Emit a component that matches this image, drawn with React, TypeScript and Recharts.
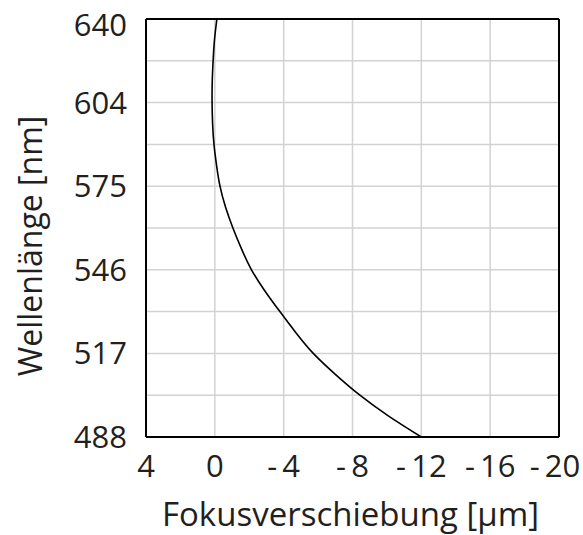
import { CartesianGrid, Line, LineChart, XAxis, YAxis } from "recharts";

// position along the wavelength axis: 0 = 488 nm (bottom), 10 = 640 nm (top)
const positions = [0, 0.5, 1, 1.5, 2, 2.5, 3, 3.5, 4, 4.5, 5, 5.5, 6, 6.5, 7, 7.5, 8, 8.5, 9, 9.5, 10];
// focus shift in µm
const shifts = [
  -12.0, -10.1, -8.43, -7.0, -5.72, -4.7, -3.78, -2.9, -2.13, -1.55, -1.05,
  -0.62, -0.3, -0.1, 0.05, 0.13, 0.16, 0.15, 0.1, 0.02, -0.12,
];

const gridPositions = [0, 1, 2, 3, 4, 5, 6, 7, 8, 9, 10];
const wavelengthLabels = ["488", "517", "546", "575", "604", "640"];
const shiftTicks = [4, 0, -4, -8, -12, -16, -20];

const data = positions.map((pos, i) => ({ pos, shift: shifts[i] }));

const FONT = "'Open Sans', 'Noto Sans', sans-serif";
const TEXT = "#231f20";
const frame = { stroke: "#000", strokeWidth: 2 };

const fmtShift = (v: number) => (v < 0 ? `-\u2009${Math.abs(v)}` : String(v));

const ShiftTick = (props: any) => {
  const { x, y, payload } = props;
  const last = payload.value === -20;
  return (
    <text
      x={last ? x - 4 : x}
      y={y}
      dy="0.71em"
      textAnchor="middle"
      fontSize={31}
      fontFamily={FONT}
      fill={TEXT}
    >
      {fmtShift(payload.value)}
    </text>
  );
};

const WaveTick = (props: any) => {
  const { x, y, payload } = props;
  const v = payload.value;
  if (v % 2 !== 0) return null;
  // the top label sits a little below its tick, as in the source figure
  const shift = v === 10 ? 6 : 0;
  return (
    <text
      x={x}
      y={y + shift}
      dy="0.355em"
      textAnchor="end"
      fontSize={31}
      fontFamily={FONT}
      fill={TEXT}
    >
      {wavelengthLabels[v / 2]}
    </text>
  );
};

const XTitle = (props: any) => {
  const { viewBox } = props;
  return (
    <text
      x={viewBox.x + viewBox.width / 2 - 2}
      y={viewBox.y + viewBox.height - 9}
      textAnchor="middle"
      fontSize={33}
      fontFamily={FONT}
      fill={TEXT}
    >
      Fokusverschiebung [µm]
    </text>
  );
};

const YTitle = (props: any) => {
  const { viewBox } = props;
  const cx = viewBox.x + 42;
  const cy = viewBox.y + viewBox.height / 2 + 18;
  return (
    <text
      x={cx}
      y={cy}
      transform={`rotate(-90 ${cx} ${cy})`}
      textAnchor="middle"
      fontSize={32}
      fontFamily={FONT}
      fill={TEXT}
    >
      Wellenlänge [nm]
    </text>
  );
};

export default function App() {
  return (
    <div style={{ position: "absolute", left: 0, top: 0 }}>
      <LineChart
        width={583}
        height={535}
        layout="vertical"
        data={data}
        margin={{ top: 19, right: 24, bottom: 0, left: 0 }}
      >
        <CartesianGrid xAxisId="bottom" yAxisId="left" stroke="#d2d2d2" strokeWidth={1.5} />
        {/* labelled axes */}
        <XAxis
          xAxisId="bottom"
          type="number"
          dataKey="shift"
          domain={[-20, 4]}
          reversed
          ticks={shiftTicks}
          interval={0}
          height={98}
          axisLine={frame}
          tickLine={false}
          tickSize={0}
          tickMargin={18}
          tick={<ShiftTick />}
          label={<XTitle />}
        />
        <YAxis
          yAxisId="left"
          type="number"
          dataKey="pos"
          domain={[0, 10]}
          reversed
          ticks={gridPositions}
          interval={0}
          width={146}
          axisLine={frame}
          tickLine={false}
          tickSize={0}
          tickMargin={19}
          tick={<WaveTick />}
          label={<YTitle />}
        />
        {/* inward tick marks on all four sides of the frame */}
        <XAxis
          xAxisId="bottomTicks"
          type="number"
          domain={[-20, 4]}
          reversed
          ticks={shiftTicks}
          interval={0}
          mirror
          height={1}
          axisLine={false}
          tickLine={frame}
          tickSize={7}
          tick={false}
        />
        <XAxis
          xAxisId="top"
          orientation="top"
          type="number"
          domain={[-20, 4]}
          reversed
          ticks={shiftTicks}
          interval={0}
          mirror
          height={1}
          axisLine={frame}
          tickLine={frame}
          tickSize={7}
          tick={false}
        />
        <YAxis
          yAxisId="leftTicks"
          type="number"
          domain={[0, 10]}
          reversed
          ticks={gridPositions}
          interval={0}
          mirror
          width={1}
          axisLine={false}
          tickLine={frame}
          tickSize={7}
          tick={false}
        />
        <YAxis
          yAxisId="right"
          orientation="right"
          type="number"
          domain={[0, 10]}
          reversed
          ticks={gridPositions}
          interval={0}
          mirror
          width={1}
          axisLine={frame}
          tickLine={frame}
          tickSize={7}
          tick={false}
        />
        <Line
          xAxisId="bottom"
          yAxisId="left"
          dataKey="shift"
          type="natural"
          stroke="#000"
          strokeWidth={1.6}
          dot={false}
          isAnimationActive={false}
        />
      </LineChart>
    </div>
  );
}
